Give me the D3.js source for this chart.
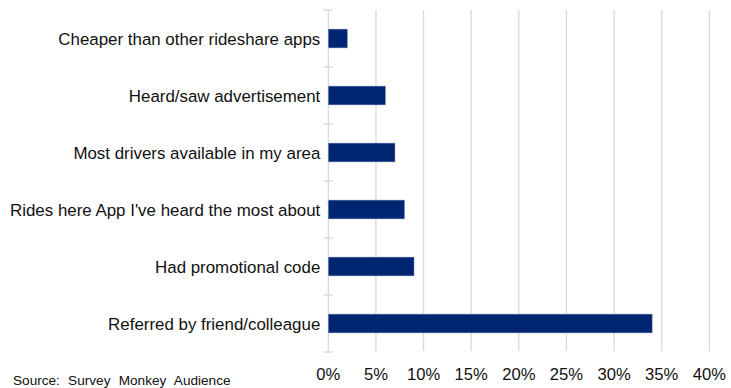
<!DOCTYPE html>
<html>
<head>
<meta charset="utf-8">
<script src="https://cdn.jsdelivr.net/npm/d3@7"></script>
<style>
  html, body { margin: 0; padding: 0; background: #fff; }
  svg { display: block; font-family: "Liberation Sans", Arial, sans-serif; }
</style>
</head>
<body>
<svg id="chart" width="731" height="388"></svg>
<script>
// Reasons for choosing the app (share of respondents, %)
const categories = [
  "Cheaper than other rideshare apps",
  "Heard/saw advertisement",
  "Most drivers available in my area",
  "Rides here App I've heard the most about",
  "Had promotional code",
  "Referred by friend/colleague"
];
const values = [2, 6, 7, 8, 9, 34];
const tickValues = [0, 5, 10, 15, 20, 25, 30, 35, 40];
const sourceNote = "Source: Survey Monkey Audience";

const svg = d3.select("#chart");
const margin = { top: 10, left: 328.3 };

const x = d3.scaleLinear().domain([0, 40]).range([0, 381]);
const y = d3.scaleBand().domain(categories).range([0, 342]).paddingInner(0.67).paddingOuter(0.335);
const yEdge = d3.scaleLinear().domain([0, categories.length]).range([0, 342]);

const g = svg.append("g").attr("transform", `translate(${margin.left},${margin.top})`);

// vertical gridlines
g.append("g")
  .selectAll("line")
  .data(tickValues.filter(d => d > 0))
  .join("line")
  .attr("x1", d => x(d)).attr("x2", d => x(d))
  .attr("y1", 0).attr("y2", 341)
  .attr("stroke", "#d9d9d9")
  .attr("stroke-width", 1.3);

// category axis line with cross tick marks at band boundaries
g.append("line")
  .attr("x1", 0).attr("x2", 0)
  .attr("y1", 0).attr("y2", 342)
  .attr("stroke", "#d9d9d9")
  .attr("stroke-width", 1.3);

g.append("g")
  .selectAll("line")
  .data(d3.range(categories.length + 1))
  .join("line")
  .attr("x1", -5).attr("x2", 4.5)
  .attr("y1", d => yEdge(d)).attr("y2", d => yEdge(d))
  .attr("stroke", "#d9d9d9")
  .attr("stroke-width", 1.3);

// bars
g.append("g")
  .selectAll("rect")
  .data(categories)
  .join("rect")
  .attr("x", 0)
  .attr("y", (d) => y(d))
  .attr("width", (d, i) => x(values[i]))
  .attr("height", y.bandwidth())
  .attr("fill", "#002672")
  .attr("stroke", "#7f93bd")
  .attr("stroke-width", 0.5);

// category labels
g.append("g")
  .selectAll("text")
  .data(categories)
  .join("text")
  .attr("x", -8)
  .attr("y", d => y(d) + y.bandwidth() / 2)
  .attr("dy", "0.37em")
  .attr("text-anchor", "end")
  .attr("font-size", "16.9px")
  .attr("fill", "#111")
  .text(d => d);

// value axis tick labels
g.append("g")
  .selectAll("text")
  .data(tickValues)
  .join("text")
  .attr("x", d => x(d))
  .attr("y", 369.5)
  .attr("text-anchor", "middle")
  .attr("font-size", "16.6px")
  .attr("fill", "#111")
  .text(d => d + "%");

// source note
svg.append("text")
  .attr("x", 13)
  .attr("y", 385)
  .attr("font-size", "13.6px")
  .attr("word-spacing", "4.5px")
  .attr("fill", "#111")
  .text(sourceNote);
</script>
</body>
</html>
